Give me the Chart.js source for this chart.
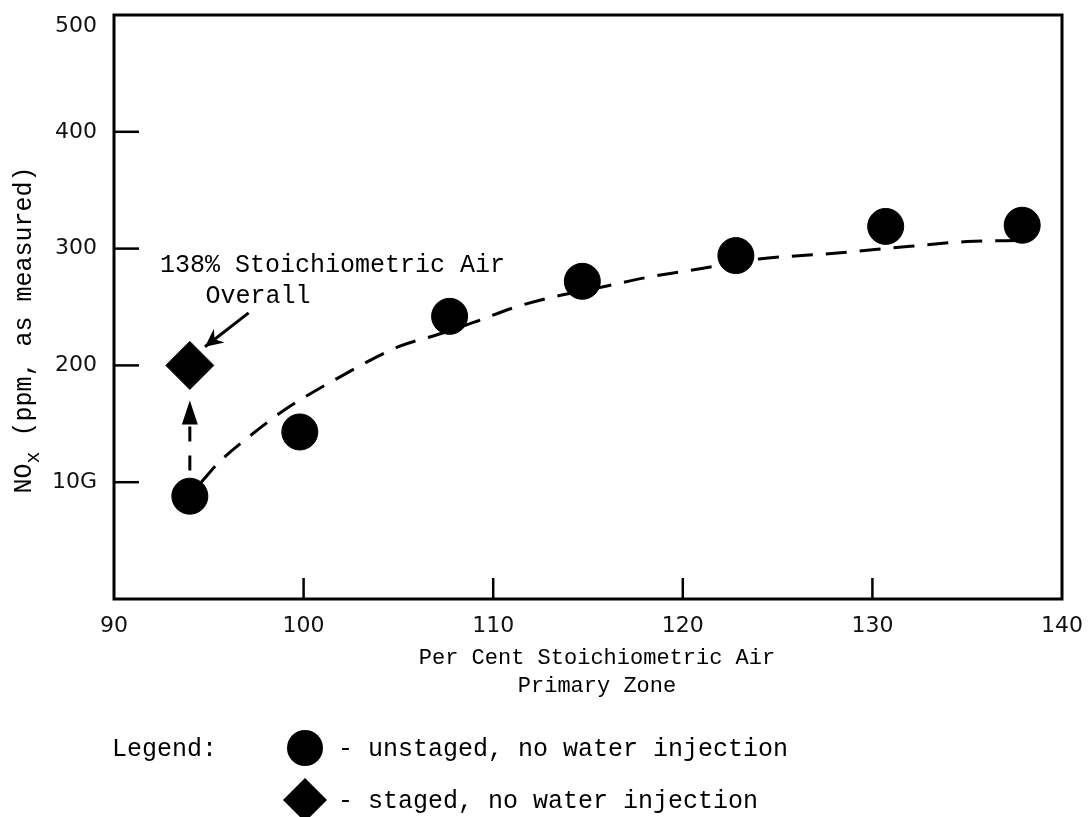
<!DOCTYPE html>
<html>
<head>
<meta charset="utf-8">
<script src="https://cdn.jsdelivr.net/npm/chart.js@4/dist/chart.umd.min.js"></script>
<style>
  html, body { margin: 0; padding: 0; background: #fff; }
  #wrap { width: 1088px; height: 817px; }
</style>
</head>
<body>
<div id="wrap"><canvas id="chart" width="1088" height="817"></canvas></div>
<script>
// Values
const unstagedAir = [94, 99.8, 107.7, 114.7, 122.8, 130.7, 137.9];
const unstagedNox = [88, 143, 242, 272, 294, 319, 320];
const stagedAir = [94];
const stagedNox = [200];

// hand drawn dashed trend line
const trendAir = [94.6, 95.6, 97.2, 99.1, 101.9, 105, 107, 109, 111, 113, 116, 118, 121, 124, 128, 132, 135, 138];
const trendNox = [100, 118, 140, 163, 190, 216, 226, 237, 249, 258, 268, 275, 283, 291, 296, 302, 306, 307];

// axis ticks
const xTicks = [90, 100, 110, 120, 130, 140];
const yTicks = [100, 200, 300, 400, 500];
const yTickLabels = ['10G', '200', '300', '400', '500'];

// arrows: dashed one from the unstaged point up to the staged one, and the note pointer
const liftArrow = { air: 94, from: 110, to: 170 };
const noteArrow = { fromAir: 97.1, fromNox: 245, toAir: 94.8, toNox: 216 };

const MONO = '"Liberation Mono", "Courier New", monospace';
const SANS = '"DejaVu Sans", sans-serif';

// draws the frame, inner tick marks, y labels, arrows, notes, titles and legend
const paperPlugin = {
    id: 'paper',
    beforeDraw(chart) {
        const ctx = chart.ctx;
        ctx.save();
        ctx.fillStyle = '#fff';
        ctx.fillRect(0, 0, chart.width, chart.height);
        ctx.restore();
    },
    afterDatasetsDraw(chart) {
        const ctx = chart.ctx;
        const xs = chart.scales.x;
        const ys = chart.scales.y;
        const area = chart.chartArea;
        ctx.save();
        ctx.strokeStyle = '#000';
        ctx.fillStyle = '#000';

        // plot frame
        ctx.lineWidth = 3;
        ctx.strokeRect(area.left, area.top, area.right - area.left, area.bottom - area.top);

        // inner ticks
        ctx.lineWidth = 2.5;
        xTicks.slice(1, -1).forEach(v => {
            const px = xs.getPixelForValue(v);
            ctx.beginPath();
            ctx.moveTo(px, area.bottom);
            ctx.lineTo(px, area.bottom - 21);
            ctx.stroke();
        });
        yTicks.slice(0, -1).forEach(v => {
            const py = ys.getPixelForValue(v);
            ctx.beginPath();
            ctx.moveTo(area.left, py);
            ctx.lineTo(area.left + 25, py);
            ctx.stroke();
        });

        // y tick labels (the top one sits a little below the corner)
        ctx.fillStyle = '#111';
        ctx.font = '22px ' + SANS;
        ctx.textAlign = 'right';
        ctx.textBaseline = 'middle';
        yTicks.forEach((v, i) => {
            const py = Math.max(ys.getPixelForValue(v), area.top + 11);
            ctx.fillText(yTickLabels[i], area.left - 17, py);
        });
        ctx.fillStyle = '#000';

        // dashed vertical arrow
        const ax = xs.getPixelForValue(liftArrow.air);
        const aFrom = ys.getPixelForValue(liftArrow.from);
        const aTip = ys.getPixelForValue(liftArrow.to);
        ctx.lineWidth = 3;
        ctx.setLineDash([15, 14]);
        ctx.beginPath();
        ctx.moveTo(ax, aFrom);
        ctx.lineTo(ax, aTip + 20);
        ctx.stroke();
        ctx.setLineDash([]);
        ctx.beginPath();
        ctx.moveTo(ax, aTip);
        ctx.lineTo(ax - 8, aTip + 24);
        ctx.lineTo(ax + 8, aTip + 24);
        ctx.closePath();
        ctx.fill();

        // note pointer
        const n0x = xs.getPixelForValue(noteArrow.fromAir);
        const n0y = ys.getPixelForValue(noteArrow.fromNox);
        const n1x = xs.getPixelForValue(noteArrow.toAir);
        const n1y = ys.getPixelForValue(noteArrow.toNox);
        const ang = Math.atan2(n1y - n0y, n1x - n0x);
        ctx.lineWidth = 3;
        ctx.beginPath();
        ctx.moveTo(n0x, n0y);
        ctx.lineTo(n1x, n1y);
        ctx.stroke();
        ctx.beginPath();
        ctx.moveTo(n1x, n1y);
        ctx.lineTo(n1x - 20 * Math.cos(ang - 0.45), n1y - 20 * Math.sin(ang - 0.45));
        ctx.lineTo(n1x - 12 * Math.cos(ang), n1y - 12 * Math.sin(ang));
        ctx.lineTo(n1x - 20 * Math.cos(ang + 0.45), n1y - 20 * Math.sin(ang + 0.45));
        ctx.closePath();
        ctx.fill();

        // note text
        ctx.font = '25px ' + MONO;
        ctx.textBaseline = 'alphabetic';
        ctx.textAlign = 'left';
        ctx.fillText('138% Stoichiometric Air', 160, 272);
        ctx.textAlign = 'center';
        ctx.fillText('Overall', 258, 303);

        // x axis title
        ctx.font = '22px ' + MONO;
        ctx.fillText('Per Cent Stoichiometric Air', 597, 664);
        ctx.fillText('Primary Zone', 597, 692);

        // y axis title with subscript
        ctx.save();
        ctx.translate(31, 330);
        ctx.rotate(-Math.PI / 2);
        ctx.textAlign = 'left';
        const partA = 'NO';
        const partB = ' (ppm, as measured)';
        ctx.font = '20px ' + MONO;
        const wSub = ctx.measureText('x').width;
        ctx.font = '25px ' + MONO;
        const wA = ctx.measureText(partA).width;
        const wB = ctx.measureText(partB).width;
        const sx = -(wA + wSub + wB) / 2;
        ctx.fillText(partA, sx, 0);
        ctx.font = '20px ' + MONO;
        ctx.fillText('x', sx + wA, 8);
        ctx.font = '25px ' + MONO;
        ctx.fillText(partB, sx + wA + wSub, 0);
        ctx.restore();

        // legend
        ctx.textAlign = 'left';
        ctx.font = '25px ' + MONO;
        ctx.fillText('Legend:', 112, 756);
        ctx.beginPath();
        ctx.arc(305, 748, 18, 0, Math.PI * 2);
        ctx.fill();
        ctx.beginPath();
        ctx.moveTo(305, 778);
        ctx.lineTo(327, 800);
        ctx.lineTo(305, 822);
        ctx.lineTo(283, 800);
        ctx.closePath();
        ctx.fill();
        ctx.fillText('- unstaged, no water injection', 338, 756);
        ctx.fillText('- staged, no water injection', 338, 808);

        ctx.restore();
    }
};

const ctx = document.getElementById('chart').getContext('2d');

new Chart(ctx, {
    type: 'scatter',
    data: {
        datasets: [
            {
                label: 'trend',
                type: 'line',
                data: trendAir.map((a, i) => ({ x: a, y: trendNox[i] })),
                borderColor: '#000',
                borderWidth: 3,
                borderDash: [21, 13],
                pointRadius: 0,
                fill: false,
                cubicInterpolationMode: 'monotone',
                order: 3
            },
            {
                label: 'unstaged, no water injection',
                data: unstagedAir.map((a, i) => ({ x: a, y: unstagedNox[i] })),
                pointStyle: 'circle',
                pointRadius: 18,
                backgroundColor: '#000',
                borderColor: '#000',
                order: 1
            },
            {
                label: 'staged, no water injection',
                data: stagedAir.map((a, i) => ({ x: a, y: stagedNox[i] })),
                pointStyle: 'rectRot',
                pointRadius: 24,
                backgroundColor: '#000',
                borderColor: '#000',
                order: 1
            }
        ]
    },
    options: {
        responsive: false,
        animation: false,
        layout: { autoPadding: false, padding: { top: 15, right: 26, left: 0, bottom: 0 } },
        plugins: {
            legend: { display: false },
            tooltip: { enabled: false }
        },
        scales: {
            x: {
                type: 'linear',
                min: 90,
                max: 140,
                afterFit(scale) {
                    scale.height = 218;
                    scale.paddingLeft = 0;
                    scale.paddingRight = 0;
                },
                afterBuildTicks(scale) { scale.ticks = xTicks.map(v => ({ value: v })); },
                grid: { display: false, drawTicks: false },
                border: { display: false },
                ticks: {
                    padding: 14,
                    color: '#111',
                    font: { family: SANS, size: 22 },
                    callback: v => String(v)
                }
            },
            y: {
                type: 'linear',
                min: 0,
                max: 500,
                afterFit(scale) { scale.width = 114; },
                afterBuildTicks(scale) { scale.ticks = yTicks.map(v => ({ value: v })); },
                grid: { display: false, drawTicks: false },
                border: { display: false },
                ticks: { display: false }
            }
        }
    },
    plugins: [paperPlugin]
});
</script>
</body>
</html>
